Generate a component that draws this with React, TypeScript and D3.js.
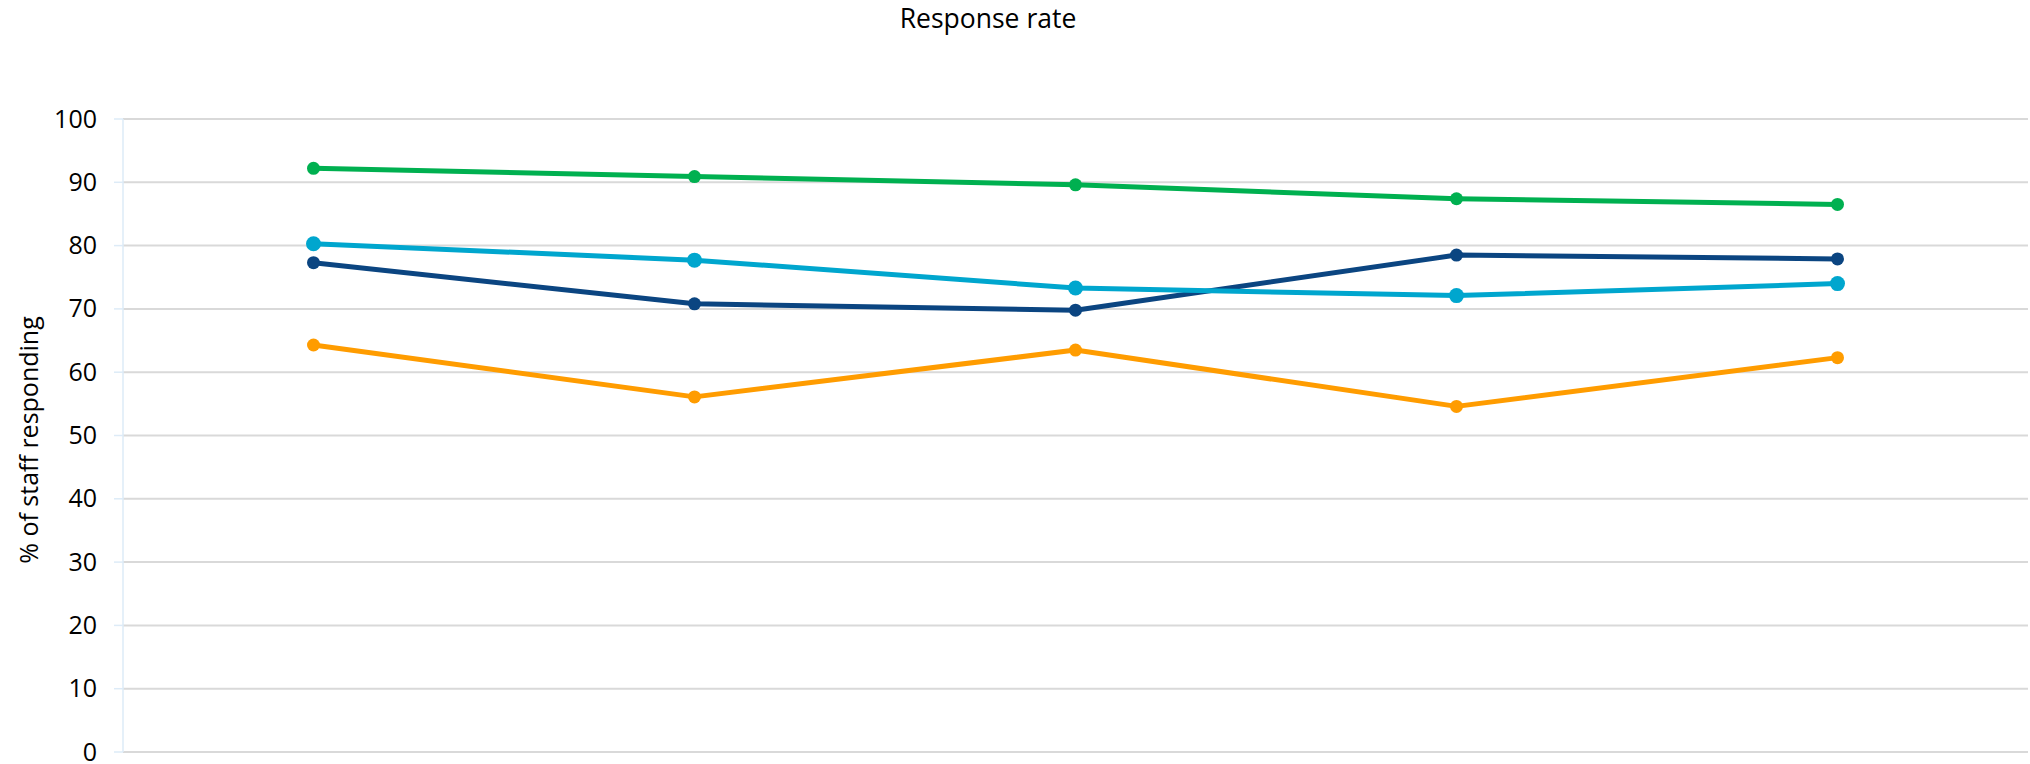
import React from "react";
import * as d3 from "d3";

const categories = ["P1", "P2", "P3", "P4", "P5"];
const seriesNames = ["Green", "Light blue", "Dark blue", "Orange"];
const greenValues = [92.2, 90.9, 89.6, 87.4, 86.5];
const lightBlueValues = [80.3, 77.7, 73.3, 72.1, 74.0];
const darkBlueValues = [77.3, 70.8, 69.8, 78.5, 77.9];
const orangeValues = [64.3, 56.1, 63.5, 54.6, 62.3];
const yTicks = [0, 10, 20, 30, 40, 50, 60, 70, 80, 90, 100];

const W = 2030;
const H = 764;
const left = 123;
const right = 2028;
const top = 119;
const bottom = 752;
const FONT = "'Open Sans', sans-serif";

export default function App() {
  const x = d3
    .scalePoint<string>()
    .domain(categories)
    .range([left, right])
    .padding(0.5);
  const y = d3.scaleLinear().domain([0, 100]).range([bottom, top]);
  const line = d3
    .line<number>()
    .x((_, i) => x(categories[i]) as number)
    .y((d) => y(d));

  const series = [
    { name: seriesNames[0], values: greenValues, color: "#00B050", r: 6.5 },
    { name: seriesNames[2], values: darkBlueValues, color: "#0B4581", r: 6.5 },
    { name: seriesNames[1], values: lightBlueValues, color: "#00A6CE", r: 7.5 },
    { name: seriesNames[3], values: orangeValues, color: "#FF9C00", r: 6.5 },
  ];

  return (
    <svg
      width={W}
      height={H}
      style={{ position: "absolute", left: 0, top: 0, background: "#fff" }}
    >
      <text
        x={988}
        y={28}
        textAnchor="middle"
        fontFamily={FONT}
        fontSize={26.5}
        fill="#000"
      >
        Response rate
      </text>
      {yTicks.map((t) => (
        <g key={t}>
          <line
            x1={left}
            x2={right}
            y1={y(t)}
            y2={y(t)}
            stroke="#D9D9D9"
            strokeWidth={2}
          />
          <line
            x1={114}
            x2={left}
            y1={y(t)}
            y2={y(t)}
            stroke="#DDEBF7"
            strokeWidth={1.5}
          />
          <text
            x={97}
            y={y(t) + 8.5}
            textAnchor="end"
            fontFamily={FONT}
            fontSize={25}
            fill="#000"
          >
            {t}
          </text>
        </g>
      ))}
      <line
        x1={left}
        x2={left}
        y1={top}
        y2={bottom}
        stroke="#DDEBF7"
        strokeWidth={1.5}
      />
      <text
        transform={`translate(38, 440) rotate(-90)`}
        textAnchor="middle"
        fontFamily={FONT}
        fontSize={25}
        fill="#000"
      >
        % of staff responding
      </text>
      {series.map((s) => (
        <g key={s.name}>
          <path
            d={line(s.values) || ""}
            fill="none"
            stroke={s.color}
            strokeWidth={5}
            strokeLinejoin="round"
          />
          {s.values.map((v, i) => (
            <circle
              key={i}
              cx={x(categories[i]) as number}
              cy={y(v)}
              r={s.r}
              fill={s.color}
            />
          ))}
        </g>
      ))}
    </svg>
  );
}
